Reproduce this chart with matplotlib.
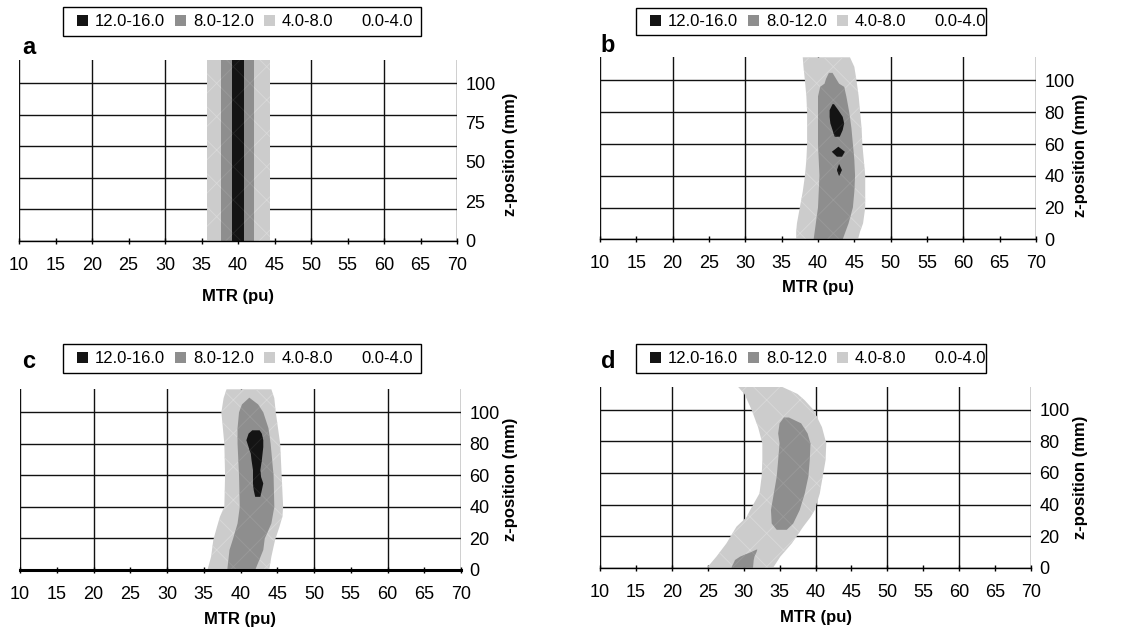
import numpy as np
import matplotlib
matplotlib.use('Agg')
import matplotlib.pyplot as plt
from matplotlib.patches import Patch, Rectangle

plt.rcParams['font.family'] = ['Liberation Sans', 'DejaVu Sans']
plt.rcParams['hatch.linewidth'] = 0.6

############### Legend / axis settings ###############
band_labels = ['12.0-16.0', '8.0-12.0', '4.0-8.0', '0.0-4.0']
band_colors = ['#141414', '#8e8e8e', '#cccccc', 'white']
hatch_colors = ['#262626', '#9a9a9a', '#d9d9d9']

mtr_ticks = list(range(10, 75, 5))
mtr_grid = list(range(10, 80, 10))
z_grid = [0, 20, 40, 60, 80, 100]
z_ticks_a = [0, 25, 50, 75, 100]
z_ticks = [0, 20, 40, 60, 80, 100]
z_top = 114.6

############### Panel a (band edges in MTR, per z-position) ###############
a_z = [0, 114.6]
a_light_l = [35.7, 35.7]
a_light_r = [44.35, 44.35]
a_mid_l = [37.7, 37.7]
a_mid_r = [42.2, 42.2]
a_dark_l = [39.2, 39.2]
a_dark_r = [40.8, 40.8]

############### Panel b ###############
b_light_z = [0, 5, 10, 20, 30, 40, 50, 60, 70, 80, 90, 100, 108.6, 114.6]
b_light_l = [37.0, 37.0, 37.1, 37.5, 37.9, 38.2, 38.4, 38.5, 38.5, 38.5, 38.4, 38.2, 38.0, 37.9]
b_light_r = [45.5, 45.8, 46.2, 46.5, 46.5, 46.5, 46.3, 46.1, 46.0, 45.8, 45.6, 45.3, 45.0, 44.4]
b_mid_z = [0, 10, 20, 30, 40, 50, 60, 70, 80, 90, 96, 98, 101, 104.8]
b_mid_l = [39.4, 39.7, 40.0, 40.1, 40.2, 40.1, 40.0, 40.0, 40.0, 40.0, 40.3, 40.9, 41.1, 41.5]
b_mid_r = [43.4, 44.2, 44.8, 45.0, 45.1, 45.0, 44.8, 44.6, 44.3, 43.9, 43.6, 42.9, 42.5, 42.0]
b_dark_z = [39.8, 43.6, 47.4, np.nan, 52.0, 55.1, 58.3, np.nan, 64.6, 68.8, 73.0, 77.1, 81.3, 85.1]
b_dark_l = [42.9, 42.6, 42.9, np.nan, 42.6, 41.9, 42.8, np.nan, 42.3, 42.0, 41.7, 41.6, 41.6, 42.0]
b_dark_r = [42.9, 43.3, 42.9, np.nan, 43.3, 43.7, 42.8, np.nan, 43.0, 43.4, 43.6, 43.4, 42.8, 42.2]

############### Panel c ###############
c_light_z = [0, 8.4, 19, 27.4, 33.8, 40, 60, 80, 90, 100, 109, 114.6]
c_light_l = [35.5, 36.0, 36.3, 36.8, 37.2, 37.8, 37.9, 37.8, 37.6, 37.4, 37.7, 38.1]
c_light_r = [43.9, 44.2, 44.7, 45.3, 45.7, 45.8, 45.6, 45.4, 45.1, 44.8, 44.6, 44.2]
c_mid_z = [0, 12.7, 20, 29.5, 40, 60, 80, 90, 100, 105, 109.3]
c_mid_l = [38.2, 38.5, 39.0, 39.6, 39.9, 39.8, 39.6, 39.6, 39.8, 40.2, 41.2]
c_mid_r = [42.0, 43.1, 43.3, 44.2, 44.6, 44.5, 44.1, 43.8, 43.1, 42.4, 41.2]
c_dark_z = [46.4, 50.6, 54.9, 59.0, 63.3, 69.6, 73.8, 78.0, 82.3, 86.5, 88.6]
c_dark_l = [42.0, 41.8, 41.7, 41.7, 41.7, 41.5, 41.4, 41.1, 40.8, 41.1, 41.6]
c_dark_r = [42.7, 42.9, 43.1, 42.8, 42.7, 42.9, 43.0, 43.1, 43.1, 42.9, 42.6]

############### Panel d ###############
d_light_z = [0, 7, 15.4, 26, 32, 36.5, 47, 57.6, 68, 78.7, 89, 100, 106, 110, 114.6]
d_light_l = [24.9, 26.2, 27.6, 29.0, 30.4, 30.9, 32.2, 32.5, 32.6, 32.6, 32.0, 31.1, 30.5, 30.1, 29.2]
d_light_r = [34.1, 35.1, 36.7, 38.3, 39.3, 39.9, 40.6, 41.0, 41.4, 41.5, 40.9, 39.7, 38.5, 37.5, 35.3]
d_mid_z = [0, 4.9, 7, 10, 11.5, np.nan, 24.0, 28, 36.5, 47, 57.6, 68, 78.7, 85, 91.4, 95.1]
d_mid_l = [28.3, 28.8, 29.5, 31.1, 31.8, np.nan, 34.6, 33.9, 33.8, 34.2, 34.6, 34.8, 35.0, 34.8, 35.0, 35.6]
d_mid_r = [31.3, 31.4, 31.5, 31.8, 31.9, np.nan, 36.0, 36.9, 37.8, 38.5, 39.0, 39.2, 39.3, 38.9, 38.0, 36.3]
d_dark_z = []
d_dark_l = []
d_dark_r = []

############### Layout (pixels -> figure fractions) ###############
W, H = 1144, 629


def px_rect(left, right, bottom, top):
    return [left / W, 1 - bottom / H, (right - left) / W, (bottom - top) / H]


fig = plt.figure(figsize=(W / 100, H / 100), dpi=100)


def draw_legend(frame, marker_x, center_y):
    x0, y0, x1, y1 = frame
    fig.patches.append(Rectangle((x0 / W, 1 - y1 / H), (x1 - x0) / W, (y1 - y0) / H,
                                 transform=fig.transFigure, facecolor='white',
                                 edgecolor='black', lw=1.0, zorder=1))
    handles = [Patch(facecolor=c, edgecolor='none') for c in band_colors]
    leg = fig.legend(handles, band_labels, loc='center left',
                     bbox_to_anchor=(marker_x / W, 1 - center_y / H),
                     ncol=4, frameon=False, fontsize=12, handlelength=0.66,
                     handleheight=0.66, handletextpad=0.42, columnspacing=0.6,
                     borderpad=0, borderaxespad=0)
    leg.set_zorder(2)


def draw_panel(rect, letter, letter_xy, bands, yticks, xlab_y, zlab_x, zlab_y, bottom_lw=1.0):
    ax = fig.add_axes(rect)
    for x in mtr_grid:
        ax.axvline(x, color='#111111', lw=1.0, zorder=1)
    for y in z_grid:
        ax.axhline(y, color='#111111', lw=1.0, zorder=1)

    colors = [band_colors[2], band_colors[1], band_colors[0]]
    hcols = [hatch_colors[2], hatch_colors[1], hatch_colors[0]]
    for (z, left, right), col, hc, zo in zip(bands, colors, hcols, [2, 3, 4]):
        if len(z) == 0:
            continue
        ax.fill_betweenx(np.array(z, dtype=float), np.array(left, dtype=float),
                         np.array(right, dtype=float), facecolor=col, edgecolor=hc,
                         hatch='x', lw=0, zorder=zo)

    ax.set_xlim(10, 70)
    ax.set_ylim(0, z_top)
    for s in ['top', 'left', 'right']:
        ax.spines[s].set_visible(False)
    ax.spines['bottom'].set_linewidth(bottom_lw)
    ax.spines['bottom'].set_zorder(6)

    ax.set_xticks(mtr_ticks)
    ax.tick_params(axis='x', direction='inout', length=5, width=1, labelsize=13, pad=9)
    ax.yaxis.tick_right()
    ax.set_yticks(yticks)
    ax.tick_params(axis='y', length=0, labelsize=13, pad=6)

    ax.text(0.5, xlab_y, 'MTR (pu)', transform=ax.transAxes, ha='center', va='top',
            fontsize=12, fontweight='bold')
    ax.text(zlab_x, zlab_y, 'z-position (mm)', transform=ax.transAxes, ha='center', va='center',
            rotation=90, fontsize=12, fontweight='bold')

    fig.text(letter_xy[0] / W, 1 - letter_xy[1] / H, letter, ha='center', va='center',
             fontsize=17, fontweight='bold')
    return ax


draw_panel(px_rect(19, 457, 240.7, 60), 'a', (29, 47),
           [(a_z, a_light_l, a_light_r), (a_z, a_mid_l, a_mid_r), (a_z, a_dark_l, a_dark_r)],
           z_ticks_a, -0.27, 1 + 53 / 438, 0.48)
draw_panel(px_rect(600, 1036, 239.3, 57.3), 'b', (608, 46),
           [(b_light_z, b_light_l, b_light_r), (b_mid_z, b_mid_l, b_mid_r), (b_dark_z, b_dark_l, b_dark_r)],
           z_ticks, -0.225, 1 + 44 / 436, 0.46)
draw_panel(px_rect(20, 461, 570, 389.3), 'c', (29, 362),
           [(c_light_z, c_light_l, c_light_r), (c_mid_z, c_mid_l, c_mid_r), (c_dark_z, c_dark_l, c_dark_r)],
           z_ticks, -0.23, 1 + 49 / 441, 0.5, bottom_lw=2.2)
draw_panel(px_rect(600, 1031, 567.7, 386.7), 'd', (608, 361),
           [(d_light_z, d_light_l, d_light_r), (d_mid_z, d_mid_l, d_mid_r), (d_dark_z, d_dark_l, d_dark_r)],
           z_ticks, -0.234, 1 + 49 / 431, 0.5)

draw_legend((62.7, 7.3, 421, 35.7), 77, 21.5)
draw_legend((636, 7.7, 986, 35.3), 650, 21.5)
draw_legend((62.7, 344.3, 421, 373.3), 77, 358.8)
draw_legend((636, 344, 986, 373), 650, 358.5)

fig.savefig('out.png', dpi=100)
